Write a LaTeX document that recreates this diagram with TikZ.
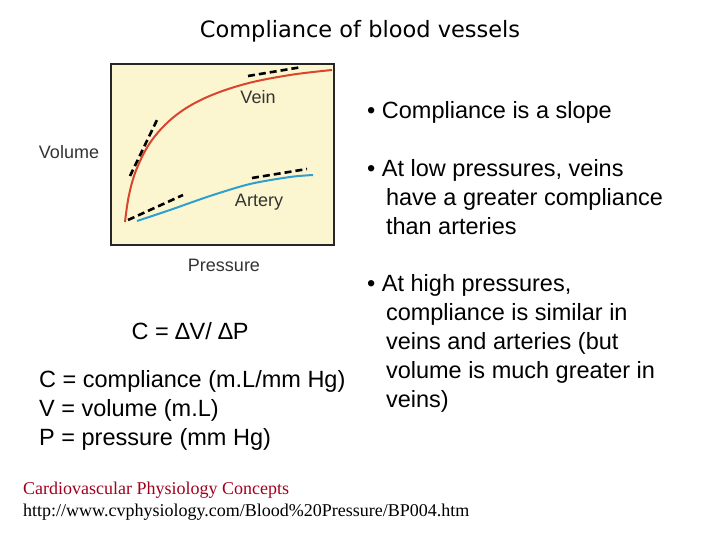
\documentclass[tikz,border=0pt]{standalone}
\usepackage{fontspec}
\setmainfont{Liberation Sans}
\newfontfamily\titlefont{DejaVu Sans}
\newfontfamily\serif{Liberation Serif}
\definecolor{boxbg}{HTML}{FBF6CF}
\definecolor{veinred}{HTML}{D9452F}
\definecolor{artblue}{HTML}{2F9FD0}
\definecolor{footred}{HTML}{A0001E}
\tikzset{tang/.style={black,line width=2.6pt,dash pattern=on 7pt off 4pt},
 body/.style={anchor=north west,font=\fontsize{23.5}{29}\selectfont,align=left,inner sep=0},
 lab/.style={font=\fontsize{18}{20}\selectfont,text=black!80}}
\begin{document}
\begin{tikzpicture}[x=1pt,y=-1pt]
\useasboundingbox (0,0) rectangle (720,540);
\node[font=\titlefont\fontsize{22.5}{26}\selectfont] (title) at (360,31) {Compliance of blood vessels};
\node[draw=black!85,line width=2pt,fill=boxbg,minimum width=223pt,minimum height=181pt,anchor=north west,inner sep=0] (box) at (110,63) {};
\draw[veinred,line width=2pt] plot[smooth,tension=0.6] coordinates {(125,222)(129,195)(137,168)(152,140)(175,116)(205,98)(245,84)(290,75)(332,70)};
\draw[artblue,line width=2pt] plot[smooth] coordinates {(137,221)(170,210)(210,196)(250,184)(290,177)(313,175)};
\draw[tang] (130,176) -- (157,120);
\draw[tang] (248,76) -- (302,67);
\draw[tang] (128,220) -- (183,195);
\draw[tang] (252,178) -- (307,169);
\node[lab] (vein) at (258,97) {Vein};
\node[lab] (art) at (259,202) {Artery};
\node[lab] (vol) at (69,152) {Volume};
\node[lab] (pres) at (224,265) {Pressure};
\node[body] (b1) at (367,101) {• Compliance is a slope};
\node[body] (b2) at (367,159) {• At low pressures, veins\\\hspace{0.8em}have a greater compliance\\\hspace{0.8em}than arteries};
\node[body] (b3) at (367,274) {• At high pressures,\\\hspace{0.8em}compliance is similar in\\\hspace{0.8em}veins and arteries (but\\\hspace{0.8em}volume is much greater in\\\hspace{0.8em}veins)};
\node[font=\fontsize{23.5}{26}\selectfont] (eq) at (190,331) {C = ∆V/ ∆P};
\node[body] (defs) at (39,370) {C = compliance (m.L/mm Hg)\\V = volume (m.L)\\P = pressure (mm Hg)};
\node[anchor=north west,inner sep=0,align=left,font=\serif\fontsize{18}{22}\selectfont] (ref) at (23,482) {\textcolor{footred}{Cardiovascular Physiology Concepts}\\http://www.cvphysiology.com/Blood\%20Pressure/BP004.htm};
\end{tikzpicture}
\end{document}
